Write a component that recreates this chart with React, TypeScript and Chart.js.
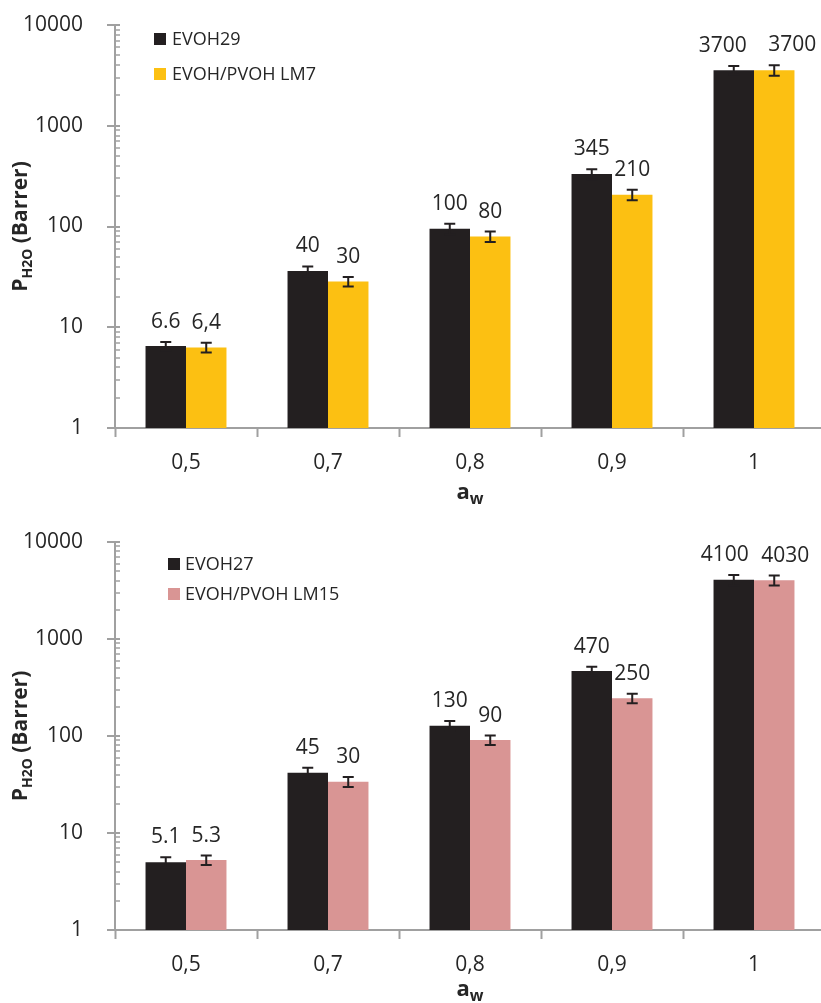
import React, { useEffect, useRef } from 'react';
import { Chart, registerables } from 'chart.js';

Chart.register(...registerables);

// ---------- data ----------
const categories = ['0,5', '0,7', '0,8', '0,9', '1'];
const yTickValues = [1, 10, 100, 1000, 10000];

// top panel
const topNameA = 'EVOH29';
const topValuesA = [6.5, 36.1, 94.9, 332, 3560];
const topErrorsA = [0.62, 4.0, 11.4, 37, 360];
const topLabelsA = ['6.6', '40', '100', '345', '3700'];
const topNameB = 'EVOH/PVOH LM7';
const topValuesB = [6.3, 28.5, 79.7, 207, 3560];
const topErrorsB = [0.7, 3.1, 9.5, 25, 420];
const topLabelsB = ['6,4', '30', '80', '210', '3700'];

// bottom panel
const botNameA = 'EVOH27';
const botValuesA = [5.0, 41.9, 127.7, 468, 4070];
const botErrorsA = [0.63, 5.3, 15, 50, 510];
const botLabelsA = ['5.1', '45', '130', '470', '4100'];
const botNameB = 'EVOH/PVOH LM15';
const botValuesB = [5.27, 33.8, 91, 245, 4030];
const botErrorsB = [0.58, 4.0, 10, 28, 475];
const botLabelsB = ['5.3', '30', '90', '250', '4030'];

// ---------- style ----------
const FONT = "'Open Sans', 'Noto Sans', sans-serif";
const AXIS = '#a0a0a0';
const TEXT = '#262626';
const BLACK = '#231f20';
const YELLOW = '#fcc012';
const PINK = '#d99594';

type Spec = {
  names: string[];
  values: number[][];
  errors: number[][];
  labels: string[][];
  labelShift: number[][];
  colors: string[];
  width: number;
  height: number;
  padTop: number;
  xAxisHeight: number;
  legend: { sx: number; tx: number; y: number; gap: number };
  yTitleX: number;
  xTitleBaseline: number;
};

function makePlugin(spec: Spec) {
  return {
    id: 'custom',
    afterDatasetsDraw(chart: any) {
      const ctx = chart.ctx;
      const y = chart.scales.y;
      const area = chart.chartArea;
      // error bars and value labels
      spec.values.forEach((vals, di) => {
        const meta = chart.getDatasetMeta(di);
        meta.data.forEach((el: any, i: number) => {
          const v = vals[i];
          const e = spec.errors[di][i];
          const yt = y.getPixelForValue(v + e);
          const yb = y.getPixelForValue(Math.max(v - e, 1));
          const x = el.x;
          ctx.save();
          ctx.strokeStyle = BLACK;
          ctx.lineWidth = 2;
          ctx.beginPath();
          ctx.moveTo(x, yt);
          ctx.lineTo(x, yb);
          ctx.moveTo(x - 5.5, yt);
          ctx.lineTo(x + 5.5, yt);
          ctx.moveTo(x - 5.5, yb);
          ctx.lineTo(x + 5.5, yb);
          ctx.stroke();
          ctx.fillStyle = TEXT;
          ctx.font = `21px ${FONT}`;
          ctx.textAlign = 'center';
          ctx.textBaseline = 'alphabetic';
          ctx.fillText(spec.labels[di][i], x + spec.labelShift[di][i], yt - 14);
          ctx.restore();
        });
      });
      // y axis tick marks (major crossing, minor inside)
      ctx.save();
      ctx.strokeStyle = AXIS;
      const left = area.left;
      for (let d = 1; d <= 10000; d *= 10) {
        for (let m = 1; m <= 9; m++) {
          const v = m * d;
          if (v > 10000) break;
          const py = Math.round(y.getPixelForValue(v));
          ctx.beginPath();
          if (m === 1) {
            ctx.lineWidth = 2;
            ctx.moveTo(left - 8, py);
            ctx.lineTo(left + 5, py);
          } else {
            ctx.lineWidth = 1.5;
            ctx.moveTo(left, py);
            ctx.lineTo(left + 5, py);
          }
          ctx.stroke();
        }
      }
      ctx.restore();
    },
    afterDraw(chart: any) {
      const ctx = chart.ctx;
      const area = chart.chartArea;
      ctx.save();
      // legend
      const lg = spec.legend;
      spec.names.forEach((n, i) => {
        const top = lg.y + i * lg.gap;
        ctx.fillStyle = spec.colors[i];
        ctx.fillRect(lg.sx, top, 12, 12);
        ctx.fillStyle = TEXT;
        ctx.font = `18px ${FONT}`;
        ctx.textAlign = 'left';
        ctx.textBaseline = 'alphabetic';
        ctx.fillText(n, lg.tx, top + 12);
      });
      // y title
      ctx.save();
      ctx.translate(spec.yTitleX, (area.top + area.bottom) / 2);
      ctx.rotate(-Math.PI / 2);
      const big = `bold 21px ${FONT}`;
      const small = `bold 14px ${FONT}`;
      ctx.font = big;
      const wP = ctx.measureText('P').width;
      const wR = ctx.measureText(' (Barrer)').width;
      ctx.font = small;
      const wS = ctx.measureText('H2O').width;
      let x0 = -(wP + wS + wR) / 2;
      ctx.fillStyle = TEXT;
      ctx.textAlign = 'left';
      ctx.textBaseline = 'alphabetic';
      ctx.font = big;
      ctx.fillText('P', x0, 0);
      x0 += wP;
      ctx.font = small;
      ctx.fillText('H2O', x0, 5);
      x0 += wS;
      ctx.font = big;
      ctx.fillText(' (Barrer)', x0, 0);
      ctx.restore();
      // x title
      const cx = (area.left + area.right) / 2;
      const fa = `bold 22px ${FONT}`;
      const fw = `bold 16px ${FONT}`;
      ctx.font = fa;
      const wa = ctx.measureText('a').width;
      ctx.font = fw;
      const ww = ctx.measureText('w').width;
      const xs = cx - (wa + ww) / 2;
      ctx.fillStyle = TEXT;
      ctx.textAlign = 'left';
      ctx.font = fa;
      ctx.fillText('a', xs, spec.xTitleBaseline);
      ctx.font = fw;
      ctx.fillText('w', xs + wa, spec.xTitleBaseline + 5);
      ctx.restore();
    },
  };
}

function makeConfig(spec: Spec): any {
  return {
    type: 'bar',
    data: {
      labels: categories,
      datasets: spec.values.map((vals, i) => ({
        label: spec.names[i],
        data: vals,
        backgroundColor: spec.colors[i],
        borderWidth: 0,
        categoryPercentage: 0.57,
        barPercentage: 1.0,
      })),
    },
    options: {
      responsive: false,
      maintainAspectRatio: false,
      animation: false,
      layout: { padding: { top: spec.padTop, right: 5, left: 0, bottom: 0 } },
      plugins: {
        legend: { display: false },
        tooltip: { enabled: false },
        title: { display: false },
      },
      scales: {
        x: {
          type: 'category',
          offset: true,
          grid: {
            display: true,
            drawOnChartArea: false,
            offset: true,
            tickLength: 9,
            tickColor: AXIS,
            tickWidth: 2,
          },
          border: { display: true, color: AXIS, width: 2 },
          ticks: {
            color: TEXT,
            font: { family: FONT, size: 21 },
            padding: 13,
            maxRotation: 0,
            autoSkip: false,
          },
          afterFit: (s: any) => {
            s.height = spec.xAxisHeight;
            s.paddingLeft = 0;
            s.paddingRight = 0;
          },
        },
        y: {
          type: 'logarithmic',
          min: 1,
          max: 10000,
          grid: { display: false },
          border: { display: true, color: AXIS, width: 2 },
          ticks: {
            color: TEXT,
            font: { family: FONT, size: 21 },
            padding: 24,
            callback: (v: any) => String(v),
          },
          afterBuildTicks: (s: any) => {
            s.ticks = yTickValues.map((v) => ({ value: v }));
          },
          afterFit: (s: any) => {
            s.width = 115;
            s.paddingTop = 0;
            s.paddingBottom = 0;
          },
        },
      },
    },
    plugins: [makePlugin(spec)],
  };
}

const topSpec: Spec = {
  names: [topNameA, topNameB],
  values: [topValuesA, topValuesB],
  errors: [topErrorsA, topErrorsB],
  labels: [topLabelsA, topLabelsB],
  labelShift: [
    [0, 0, 0, 0, -11],
    [0, 0, 0, 0, 18],
  ],
  colors: [BLACK, YELLOW],
  width: 830,
  height: 510,
  padTop: 25,
  xAxisHeight: 82,
  legend: { sx: 154, tx: 172, y: 33, gap: 35 },
  yTitleX: 27,
  xTitleBaseline: 499,
};

const botSpec: Spec = {
  names: [botNameA, botNameB],
  values: [botValuesA, botValuesB],
  errors: [botErrorsA, botErrorsB],
  labels: [botLabelsA, botLabelsB],
  labelShift: [
    [0, 0, 0, 0, -9],
    [0, 0, 0, 0, 11],
  ],
  colors: [BLACK, PINK],
  width: 830,
  height: 493,
  padTop: 32,
  xAxisHeight: 73,
  legend: { sx: 168, tx: 185, y: 48, gap: 30 },
  yTitleX: 27,
  xTitleBaseline: 486,
};

function Panel({ spec, top }: { spec: Spec; top: number }) {
  const ref = useRef<HTMLCanvasElement | null>(null);
  useEffect(() => {
    if (!ref.current) return;
    const chart = new Chart(ref.current, makeConfig(spec));
    return () => chart.destroy();
  }, [spec]);
  return (
    <div style={{ position: 'absolute', left: 0, top, width: spec.width, height: spec.height }}>
      <canvas ref={ref} width={spec.width} height={spec.height} style={{ display: 'block' }} />
    </div>
  );
}

export default function App() {
  return (
    <div
      style={{
        position: 'absolute',
        left: 0,
        top: 0,
        width: 821,
        height: 1003,
        overflow: 'hidden',
        background: '#ffffff',
      }}
    >
      <Panel spec={topSpec} top={0} />
      <Panel spec={botSpec} top={510} />
    </div>
  );
}
